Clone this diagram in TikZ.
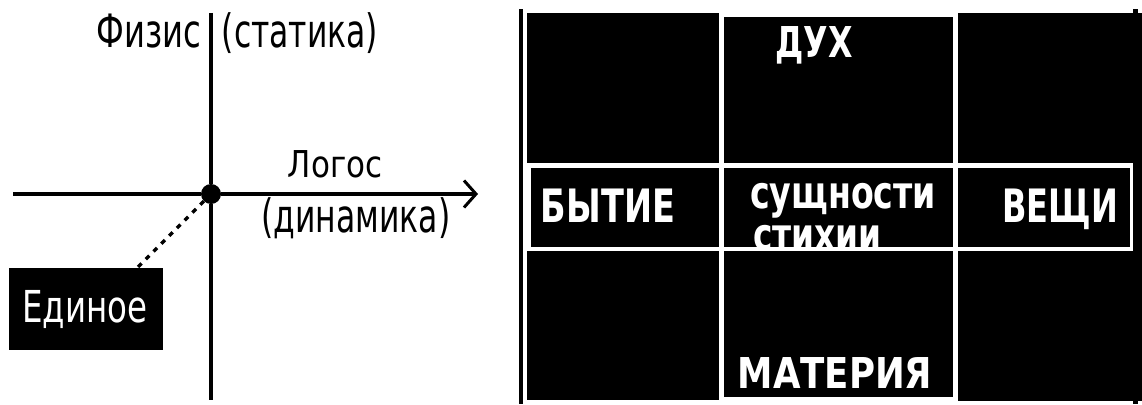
\documentclass[tikz,border=0pt]{standalone}
\usepackage{fontspec}
\newfontfamily\cond{DejaVu Sans Condensed}
\usetikzlibrary{arrows.meta}
% horizontal squeeze of a label
\newcommand\sqz[2]{\scalebox{#1}[1]{#2}}

\begin{document}
\begin{tikzpicture}[x=1pt,y=-1pt,
  axis/.style={line width=4.5pt},
  dashline/.style={line width=3.5pt, dash pattern=on 5pt off 6pt},
  lbl/.style={inner sep=0pt, anchor=base, font=\cond\fontsize{46pt}{46pt}\selectfont},
  darkbox/.style={fill=black, text=white, inner sep=0pt, anchor=north west},
  celltext/.style={inner sep=0pt, anchor=base, text=white},
  cell/.style={fill=black}
]
\useasboundingbox (0,0) rectangle (1142,404);

% ---------- left: the two axes ----------
\node[circle, fill=black, inner sep=0pt, minimum size=20pt] (o) at (211,194) {};
\coordinate (ytop) at (211,13);
\coordinate (ybot) at (211,400);
\coordinate (xleft) at (13,194);
\coordinate (xright) at (478,194);
\draw[axis] (ytop) -- (o) -- (ybot);
\draw[axis, -{Straight Barb[length=12pt,width=27pt,line width=3pt]}] (xleft) -- (o) -- (xright);

\node[lbl] (phys) at (149,48) {\sqz{0.78}{Физис}};
\node[lbl] (stat) at (300,48) {\sqz{0.76}{(статика)}};
\node[lbl, font=\cond\fontsize{37pt}{37pt}\selectfont] (logos) at (335,177) {\sqz{0.93}{Логос}};
\node[lbl] (dyn) at (356,232) {\sqz{0.76}{(динамика)}};

% the One, linked to the origin
\node[darkbox, minimum width=154pt, minimum height=82pt] (ed) at (9,268) {};
\node[celltext, font=\cond\fontsize{44pt}{44pt}\selectfont] (edt) at (85,322) {\sqz{0.82}{Единое}};
\coordinate (edtop) at (137,268);
\draw[dashline] (o) -- (edtop);

% ---------- right: the nine-cell table ----------
\fill (519,9) rectangle (523,404);
\fill (1133,9) rectangle (1138,404);

% top row
\fill[cell] (527,13) rectangle (719,163);
\fill[cell] (724,17) rectangle (953,163);
\fill[cell] (958,13) rectangle (1142,163);
% middle row
\fill[cell] (531,168) rectangle (719,247);
\fill[cell] (724,168) rectangle (953,247);
\fill[cell] (958,168) rectangle (1130,247);
\fill[cell] (1133,163) rectangle (1142,251);
% bottom row
\fill[cell] (527,251) rectangle (719,400);
\fill[cell] (724,251) rectangle (953,397);
\fill[cell] (958,251) rectangle (1142,401);

\begin{scope}[every node/.style={celltext, font=\cond\bfseries\fontsize{46pt}{46pt}\selectfont}]
  \node[font=\cond\bfseries\fontsize{42.5pt}{42.5pt}\selectfont] (spirit) at (814,58) {\sqz{0.83}{ДУХ}};
  \node (being) at (608,222) {\sqz{0.81}{БЫТИЕ}};
  \node (things) at (1060,222) {\sqz{0.775}{ВЕЩИ}};
  \node[anchor=base west, font=\cond\bfseries\fontsize{45pt}{45pt}\selectfont] (ess) at (750,208) {\sqz{0.82}{сущности}};
  \node[anchor=base west, font=\cond\bfseries\fontsize{45pt}{45pt}\selectfont] (elem) at (753,250) {\sqz{0.81}{стихии}};
  \node[font=\cond\bfseries\fontsize{42.5pt}{42.5pt}\selectfont] (matter) at (835,388) {\sqz{0.93}{МАТЕРИЯ}};
\end{scope}
\end{tikzpicture}
\end{document}
